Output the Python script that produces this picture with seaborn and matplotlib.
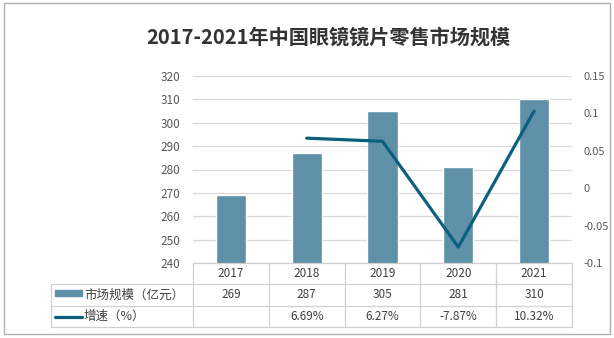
import matplotlib
matplotlib.use("Agg")
import matplotlib.pyplot as plt
import matplotlib.transforms as mtransforms
from matplotlib.patches import Rectangle
from matplotlib.lines import Line2D
from matplotlib.ticker import FuncFormatter, MultipleLocator
import seaborn as sns
import pandas as pd

sns.set_theme(style="white")
plt.rcParams["font.family"] = ["Noto Sans CJK SC", "DejaVu Sans"]

title = "2017-2021年中国眼镜镜片零售市场规模"
years = ["2017", "2018", "2019", "2020", "2021"]
market_size = [269, 287, 305, 281, 310]          # 亿元
growth_years = ["2018", "2019", "2020", "2021"]
growth = [0.0669, 0.0627, -0.0787, 0.1032]
growth_labels = ["", "6.69%", "6.27%", "-7.87%", "10.32%"]
bar_name = "市场规模（亿元）"
line_name = "增速（%）"

bar_color = "#5E91A8"
line_color = "#0E5F7E"
grid_color = "#D9D9D9"
text_color = "#595959"

W, H = 614, 338
fig = plt.figure(figsize=(W / 100, H / 100), dpi=100)

def fx(px):
    return px / W

def fy(py):
    return 1 - py / H

ax = fig.add_axes([fx(193), fy(263), fx(572) - fx(193), fy(76) - fy(263)])

bars = pd.DataFrame({"year": years, "size": market_size})
sns.barplot(data=bars, x="year", y="size", color=bar_color, width=0.4,
            saturation=1, ax=ax)
ax.set_xlim(-0.5, 4.5)
ax.set_ylim(240, 320)
ax.yaxis.set_major_locator(MultipleLocator(10))
ax.grid(axis="y", color=grid_color, linewidth=0.9)
ax.set_axisbelow(True)
ax.set_xlabel("")
ax.set_ylabel("")
ax.set_xticks([])
ax.tick_params(axis="y", length=0, labelsize=8.5, labelcolor=text_color, pad=9)
for s in ax.spines.values():
    s.set_visible(False)

ax2 = ax.twinx()
line = pd.DataFrame({"pos": [years.index(y) for y in growth_years], "growth": growth})
sns.lineplot(data=line, x="pos", y="growth", color=line_color, linewidth=2.3,
             ax=ax2)
ax2.set_ylim(-0.1, 0.15)
ax2.yaxis.set_major_locator(MultipleLocator(0.05))
ax2.yaxis.set_major_formatter(FuncFormatter(lambda v, p: f"{round(v, 2):g}"))
ax2.tick_params(axis="y", length=0, labelsize=8, labelcolor=text_color, pad=8)
ax2.set_xlabel("")
ax2.set_ylabel("")
ax2.set_xlim(-0.5, 4.5)
for s in ax2.spines.values():
    s.set_visible(False)

# data table beneath the plot
tr = mtransforms.blended_transform_factory(ax.transData, fig.transFigure)
tbl_color = "#D0D0D0"
row_y = [fy(263), fy(284), fy(306), fy(327)]
left_x = -0.5 - (193 - 51) / ((572 - 193) / 5)

fig.lines.append(Line2D([-0.5, 4.5], [row_y[0]] * 2, transform=tr, color=tbl_color, lw=0.9))
for y in row_y[1:]:
    fig.lines.append(Line2D([left_x, 4.5], [y] * 2, transform=tr, color=tbl_color, lw=0.9))
for i in range(6):
    fig.lines.append(Line2D([i - 0.5] * 2, [row_y[0], row_y[3]], transform=tr,
                            color=tbl_color, lw=0.9))
fig.lines.append(Line2D([left_x] * 2, [row_y[1], row_y[3]], transform=tr,
                        color=tbl_color, lw=0.9))

cell_kw = dict(transform=tr, ha="center", va="center", fontsize=8.5, color="#404040")
for i, yr in enumerate(years):
    fig.text(i, (row_y[0] + row_y[1]) / 2, yr, **cell_kw)
    fig.text(i, (row_y[1] + row_y[2]) / 2, str(market_size[i]), **cell_kw)
    fig.text(i, (row_y[2] + row_y[3]) / 2, growth_labels[i], **cell_kw)

# legend keys in the first column
fig.patches.append(Rectangle((fx(55), fy(296)), fx(82) - fx(55), fy(290) - fy(296),
                             transform=fig.transFigure, color=bar_color))
fig.lines.append(Line2D([fx(55), fx(82)], [fy(317)] * 2, transform=fig.transFigure,
                        color=line_color, lw=2.3))
fig.text(fx(84), (row_y[1] + row_y[2]) / 2, bar_name, ha="left", va="center",
         fontsize=9, color="#404040")
fig.text(fx(84), (row_y[2] + row_y[3]) / 2, line_name, ha="left", va="center",
         fontsize=9, color="#404040")

fig.text(fx(328), fy(37), title, ha="center", va="center", fontsize=14.5,
         fontweight="bold", color="#333333")

# outer frame
fig.patches.append(Rectangle((fx(4), fy(334)), fx(610) - fx(4), fy(3) - fy(334),
                             transform=fig.transFigure, fill=False,
                             edgecolor="#B0B0B0", lw=1))

fig.savefig("out.png", dpi=100)
